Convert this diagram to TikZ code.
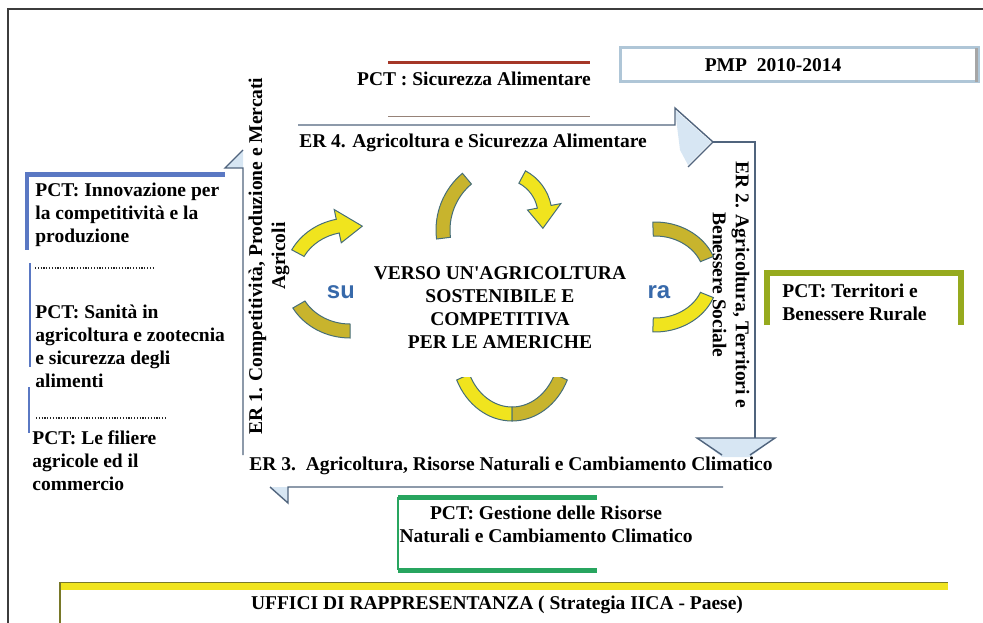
\documentclass[tikz,border=0pt]{standalone}
\usepackage{fontspec}
\setmainfont{Liberation Serif}
\newfontfamily\sansfont{Liberation Sans}
\usepackage{xcolor}
\definecolor{giallo}{RGB}{240, 228, 30}
\definecolor{oliva}{RGB}{200, 180, 45}
\definecolor{bordoarco}{RGB}{70, 110, 120}
\definecolor{lineafreccia}{RGB}{80, 100, 125}
\definecolor{azzurrino}{RGB}{215, 230, 243}
\definecolor{blu}{RGB}{90, 120, 195}
\definecolor{blutesto}{RGB}{55, 105, 170}
\definecolor{rosso}{RGB}{165, 55, 40}
\definecolor{marrone}{RGB}{150, 130, 120}
\definecolor{verde}{RGB}{40, 165, 95}
\definecolor{olivaverde}{RGB}{150, 170, 30}
\definecolor{olivascuro}{RGB}{120, 120, 40}
\definecolor{pmpbordo}{RGB}{175, 198, 215}
\definecolor{cornice}{RGB}{60, 60, 60}

\tikzset{
  testo/.style={inner sep=0pt, align=left},
  linea/.style={draw=lineafreccia, line width=1.4pt},
  puntini/.style={draw=black!85, line width=1.2pt, dash pattern=on 1.2pt off 1.6pt}
}

% fascia d'arco: #2 centro, #3 rx, #4 ry, #5 inizio, #6 fine
\newcommand{\banda}[6][giallo]{%
  \filldraw[fill=#1, draw=bordoarco, line width=1pt, shift={(#2)}]
    ({(#3+7)*cos(#5)},{(#4+7)*sin(#5)}) arc[start angle=#5, end angle=#6, x radius=#3+7, y radius=#4+7]
    -- ({(#3-7)*cos(#6)},{(#4-7)*sin(#6)}) arc[start angle=#6, end angle=#5, x radius=#3-7, y radius=#4-7]
    -- cycle;}

% freccia ad arco: #5 inizio, #6 base della punta, #7 punta
\newcommand{\frecciarco}[7][giallo]{%
  \filldraw[fill=#1, draw=bordoarco, line width=1pt, shift={(#2)}]
    ({(#3+7)*cos(#5)},{(#4+7)*sin(#5)}) arc[start angle=#5, end angle=#6, x radius=#3+7, y radius=#4+7]
    -- ({(#3+17)*cos(#6)},{(#4+17)*sin(#6)})
    -- ({#3*cos(#7)},{#4*sin(#7)})
    -- ({(#3-17)*cos(#6)},{(#4-17)*sin(#6)})
    -- ({(#3-7)*cos(#6)},{(#4-7)*sin(#6)}) arc[start angle=#6, end angle=#5, x radius=#3-7, y radius=#4-7]
    -- cycle;}

\begin{document}
\begin{tikzpicture}[x=1pt, y=-1pt, thick, font=\fontsize{19.5}{23}\selectfont\bfseries]
                \useasboundingbox (0,0) rectangle (983,623);

                % cornice
                \draw[cornice, line width=1.5pt] (983,9) -- (8,9) -- (8,623);

                % PMP
                \filldraw[fill=white, draw=pmpbordo, line width=3pt] (620,48) rectangle (978,82);
                \draw[gray!70, line width=3pt] (976,48) -- (976,82);
                \node (pmp) at (773,65) {PMP\ \ 2010-2014};

                % PCT sicurezza alimentare
                \draw[rosso, line width=3pt] (388,63) -- (590,63);
                \node (pctsic) at (474,79) {PCT : Sicurezza Alimentare};
                \draw[marrone, line width=1pt] (388,117) -- (590,117);

                % ER 4
                \fill[azzurrino] (675,110) -- (711,142) -- (688,165) -- (680,150) -- cycle;
                \draw[linea] (298,125) -- (675,125) -- (675,108) -- (713,142) -- (688,167);
                \node (er4) at (473,143) {ER 4. Agricoltura e Sicurezza Alimentare};

                % ER 2
                \fill[azzurrino] (697,438) -- (775,438) -- (750,457) -- (722,457) -- cycle;
                \draw[linea] (713,142) -- (755,142) -- (755,438);
                \draw[linea] (722,455) -- (697,438) -- (775,438) -- (750,455);
                \node[rotate=-90, align=center] (er2) at (731,285) {ER 2. Agricoltura, Territori e\\Benessere Sociale};

                % ER 3
                \fill[azzurrino] (270,487) -- (288,487) -- (288,502) -- cycle;
                \draw[linea] (723,487) -- (288,487) -- (288,503) -- (270,487);
                \node (er3) at (511,466) {ER 3.\ \ Agricoltura, Risorse Naturali e Cambiamento Climatico};

                % ER 1
                \fill[azzurrino] (225,168) -- (243,150) -- (243,168) -- cycle;
                \draw[linea] (243,455) -- (243,168) -- (225,168) -- (243,150);
                \node[rotate=90, align=center] (er1) at (269,256) {ER 1. Competitività, Produzione e Mercati\\Agricoli};

                % colonna sinistra
                \draw[blu, line width=5pt] (25,175) -- (225,175);
                \draw[blu, line width=4pt] (27,173) -- (27,250);
                \node[testo, anchor=west] (pctinn) at (35,215) {PCT: Innovazione per\\la competitività e la\\produzione};
                \draw[puntini] (35,268) -- (155,268);
                \draw[blu, line width=1.2pt] (30,263) -- (30,367);
                \node[testo, anchor=west] (pctsan) at (35,346) {PCT: Sanità in\\agricoltura e zootecnia\\e sicurezza degli\\alimenti};
                \draw[blu, line width=1.2pt] (29,387) -- (29,433);
                \draw[puntini] (36,418) -- (165,418);
                \node[testo, anchor=west] (pctfil) at (32,461) {PCT: Le filiere\\agricole ed il\\commercio};

                % ciclo centrale
                \frecciarco{350,278}{59}{53}{208}{258}{282}
                \banda[oliva]{350,278}{59}{53}{90}{150}
                \banda[oliva]{510,230}{67}{67}{173}{230}
                \frecciarco{502,215}{43}{43}{298}{349}{378}
                \banda[oliva]{655,277}{56}{48}{268}{338}
                \banda{655,277}{56}{48}{22}{92}
                \banda{512,350}{54}{64}{90}{155}
                \banda[oliva]{512,350}{54}{64}{25}{90}
                \node[blutesto, font=\sansfont\bfseries\fontsize{24}{24}\selectfont] (su) at (341,292) {su};
                \node[blutesto, font=\sansfont\bfseries\fontsize{24}{24}\selectfont] (ra) at (659,292) {ra};
                \node[fill=white, minimum width=295, minimum height=137, align=center, inner sep=0pt] (centro) at (500,308)
                    {VERSO UN\textquotesingle AGRICOLTURA\\SOSTENIBILE E\\COMPETITIVA\\PER LE AMERICHE};

                % PCT territori
                \draw[olivaverde, line width=6pt] (767,325) -- (767,273) -- (961,273) -- (961,325);
                \node[testo, anchor=west] (pctter) at (782,302) {PCT: Territori e\\Benessere Rurale};

                % PCT gestione risorse
                \draw[verde, line width=5pt] (597,497) -- (398,497);
                \draw[verde, line width=5pt] (398,570) -- (597,570);
                \draw[verde, line width=1.5pt] (398,497) -- (398,570);
                \node[align=center, inner sep=0pt] (pctges) at (546,524) {PCT: Gestione delle Risorse\\Naturali e Cambiamento Climatico};

                % uffici
                \fill[giallo] (60,582) rectangle (948,590);
                \draw[olivascuro, line width=1pt] (60,582) -- (948,582);
                \draw[olivascuro, line width=1.5pt] (60,582) -- (60,623);
                \node (uffici) at (497,605) {UFFICI DI RAPPRESENTANZA ( Strategia IICA - Paese)};
\end{tikzpicture}
\end{document}
